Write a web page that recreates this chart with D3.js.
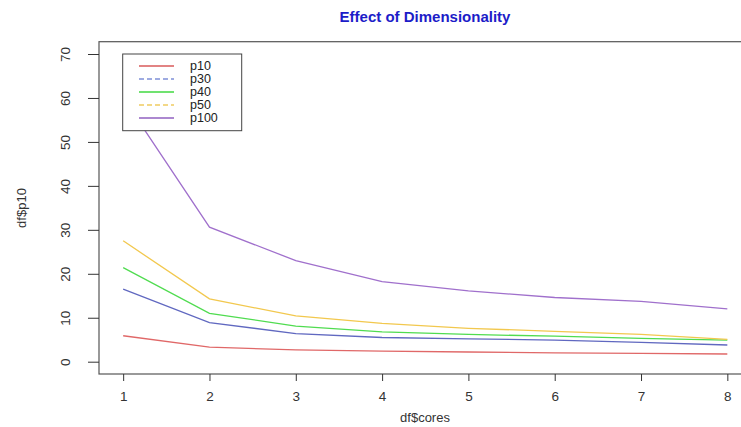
<!DOCTYPE html>
<html><head><meta charset="utf-8">
<script src="https://cdn.jsdelivr.net/npm/d3@7"></script>
<style>body{margin:0;background:#fff}svg{display:block}text{font-family:"Liberation Sans",Arial,sans-serif}</style>
</head><body>
<svg id="c" width="741" height="427"></svg>
<script>
const cores = [1,2,3,4,5,6,7,8];
const p10  = [5.9, 3.3, 2.7, 2.4, 2.2, 2.0, 1.9, 1.75];
const p30  = [16.5, 8.9, 6.4, 5.5, 5.2, 4.9, 4.4, 3.8];
const p40  = [21.4, 11.0, 8.1, 6.8, 6.2, 5.8, 5.3, 4.9];
const p50  = [27.5, 14.3, 10.4, 8.7, 7.6, 6.9, 6.2, 5.1];
const p100 = [60.0, 30.6, 23.0, 18.2, 16.1, 14.6, 13.7, 12.0];
const seriesNames = ["p10","p30","p40","p50","p100"];
const seriesColors = ["#e06868","#6068c0","#50dc50","#f2c84e","#a070cc"];
const legendColors = ["#d85a5a","#7f90d8","#40d840","#f0cc60","#9060c0"];
const legendDash = [null,"5,3",null,"5,3",null];
const yTicks = [0,10,20,30,40,50,60,70];
const xTicks = [1,2,3,4,5,6,7,8];
const seriesData = [p10,p30,p40,p50,p100];

const svg = d3.select("#c");
const x = d3.scaleLinear().domain([0.72, 8.28]).range([99, 751.5]);
const y = d3.scaleLinear().domain([-2.8, 72.8]).range([374, 41.7]);

svg.append("rect").attr("x",99).attr("y",41.7).attr("width",652.5).attr("height",332.3)
  .attr("fill","none").attr("stroke","#555").attr("stroke-width",1.2);

const xa = svg.append("g").attr("transform","translate(0,374)")
  .call(d3.axisBottom(x).tickValues(xTicks).tickSize(7).tickPadding(10).tickFormat(d3.format("d")));
xa.select(".domain").remove();
xa.selectAll("line").attr("stroke","#333");
xa.selectAll("text").attr("font-size",13.5).attr("fill","#333");

const ya = svg.append("g").attr("transform","translate(99,0)")
  .call(d3.axisLeft(y).tickValues(yTicks).tickSize(11).tickFormat(d3.format("d")));
ya.select(".domain").remove();
ya.selectAll("line").attr("stroke","#333");
ya.selectAll("text").attr("font-size",13.5).attr("fill","#333")
  .attr("text-anchor","middle").attr("dy",null).attr("x",null)
  .attr("transform", d => `translate(-34,0) rotate(-90) translate(0,4.5)`);

const line = d3.line().x((d,i)=>x(cores[i])).y(d=>y(d));
seriesData.forEach((s,k)=>{
  svg.append("path").attr("d",line(s)).attr("fill","none")
    .attr("stroke",seriesColors[k]).attr("stroke-width",1.3);
});

const lg = svg.append("g");
lg.append("rect").attr("x",122.7).attr("y",54).attr("width",119).attr("height",76.7)
  .attr("fill","#fff").attr("stroke","#444").attr("stroke-width",1);
seriesNames.forEach((n,k)=>{
  const yy = 66 + k*13;
  lg.append("line").attr("x1",139).attr("x2",174).attr("y1",yy).attr("y2",yy)
    .attr("stroke",legendColors[k]).attr("stroke-width",1.3)
    .attr("stroke-dasharray",legendDash[k]);
  lg.append("text").attr("x",190).attr("y",yy+4).attr("font-size",12.5).attr("fill","#222").text(n);
});

svg.append("text").attr("x",425).attr("y",22).attr("text-anchor","middle")
  .attr("font-size",15).attr("font-weight","bold").attr("fill","#1c1cc8").text("Effect of Dimensionality");
svg.append("text").attr("x",425).attr("y",422).attr("text-anchor","middle")
  .attr("font-size",13).attr("fill","#333").text("df$cores");
svg.append("text").attr("transform","translate(26,208) rotate(-90)").attr("text-anchor","middle")
  .attr("font-size",13).attr("fill","#333").text("df$p10");
</script>
</body></html>
